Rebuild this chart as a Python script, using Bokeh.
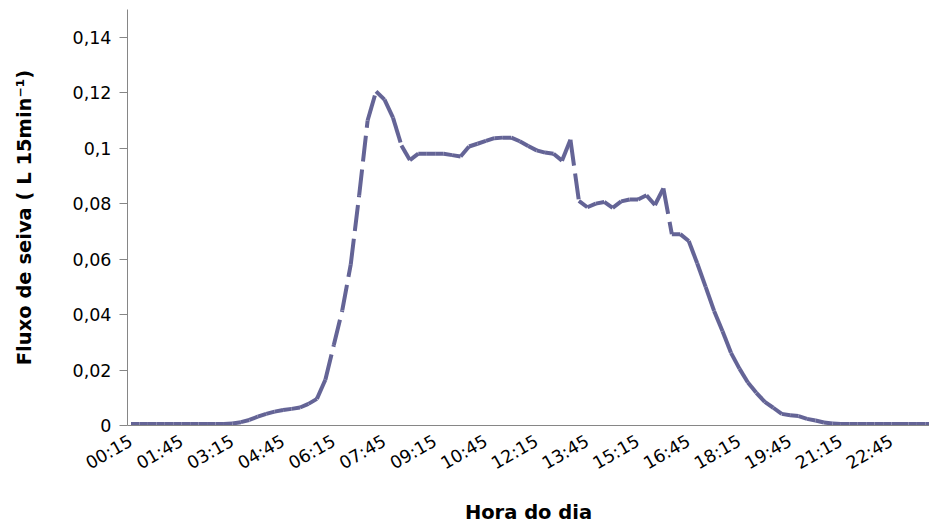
import numpy as np
from bokeh.plotting import figure
from bokeh.models import Range1d, FixedTicker, ColumnDataSource
from bokeh.embed import file_html
from bokeh.resources import INLINE

# 15-minute intervals, 00:15 ... 24:00 (96 points)
flow = [
    0.0005, 0.0005, 0.0005, 0.0005, 0.0005, 0.0005, 0.0005, 0.0005, 0.0005, 0.0005, 0.0005, 0.0005,
    0.0007, 0.0012, 0.0020, 0.0032, 0.0042, 0.0050, 0.0056, 0.0060, 0.0065, 0.0078, 0.0096, 0.0165,
    0.0290, 0.0415, 0.0580, 0.0830, 0.1100, 0.1205, 0.1175, 0.1110, 0.1010, 0.0957, 0.0980, 0.0980,
    0.0980, 0.0980, 0.0975, 0.0970, 0.1006, 0.1016, 0.1026, 0.1036, 0.1038, 0.1038, 0.1025, 0.1008,
    0.0992, 0.0984, 0.0980, 0.0955, 0.1030, 0.0810, 0.0787, 0.0800, 0.0806, 0.0785, 0.0808, 0.0815,
    0.0815, 0.0830, 0.0795, 0.0855, 0.0690, 0.0690, 0.0665, 0.0585, 0.0500, 0.0413, 0.0340, 0.0262,
    0.0205, 0.0155, 0.0118, 0.0085, 0.0064, 0.0042, 0.0037, 0.0034, 0.0024, 0.0018, 0.0011, 0.0007,
    0.0005, 0.0005, 0.0005, 0.0005, 0.0005, 0.0005, 0.0005, 0.0005, 0.0005, 0.0005, 0.0005, 0.0005,
]

x_tick_labels = ["00:15", "01:45", "03:15", "04:45", "06:15", "07:45", "09:15", "10:45",
                 "12:15", "13:45", "15:15", "16:45", "18:15", "19:45", "21:15", "22:45"]
x_tick_pos = list(range(0, 96, 6))

y_ticks = [0, 0.02, 0.04, 0.06, 0.08, 0.1, 0.12, 0.14]
y_tick_labels = ["0", "0,02", "0,04", "0,06", "0,08", "0,1", "0,12", "0,14"]

idx = list(range(len(flow)))
src = ColumnDataSource(dict(x0=idx[:-1], y0=flow[:-1], x1=idx[1:], y1=flow[1:]))

p = figure(width=929, height=529, x_range=Range1d(-0.414, 94.49), y_range=Range1d(0, 0.15),
           output_backend="svg", toolbar_location=None,
           min_border_left=127, min_border_right=0, min_border_top=9, min_border_bottom=104)
p.outline_line_color = None
p.grid.grid_line_color = None
p.background_fill_color = "white"
p.border_fill_color = "white"

p.segment(x0="x0", y0="y0", x1="x1", y1="y1", source=src, line_color="#646496",
          line_width=4, line_dash="26 8", line_cap="butt")

axis_color = "#868686"
for ax in (p.xaxis[0], p.yaxis[0]):
    ax.axis_line_color = axis_color
    ax.minor_tick_line_color = None
    ax.major_label_text_font = "DejaVu Sans"
    ax.major_label_text_font_size = "17.5px"
    ax.major_label_text_color = "black"
    ax.axis_label_text_font = "DejaVu Sans"
    ax.axis_label_text_font_style = "bold"
    ax.axis_label_text_font_size = "19.5px"
    ax.axis_label_text_color = "black"

p.yaxis.ticker = FixedTicker(ticks=y_ticks)
p.yaxis.major_label_overrides = {t: l for t, l in zip(y_ticks, y_tick_labels)}
p.yaxis.major_tick_line_color = axis_color
p.yaxis.major_tick_out = 8
p.yaxis.major_tick_in = 0
p.yaxis.major_label_standoff = 8
p.yaxis.axis_label = "Fluxo de seiva ( L 15min\u207b\u00b9)"
p.yaxis.axis_label_standoff = 34

xax = p.xaxis[0]
xax.ticker = FixedTicker(ticks=x_tick_pos)
xax.major_label_overrides = {t: l for t, l in zip(x_tick_pos, x_tick_labels)}
xax.major_tick_line_color = None
xax.major_tick_out = 0
xax.major_tick_in = 0
xax.major_label_orientation = 0.52
xax.major_label_text_baseline = "bottom"
xax.major_label_standoff = 14
xax.axis_label = "Hora do dia"
xax.axis_label_standoff = 16

open("out.html", "w").write(file_html(p, INLINE))
